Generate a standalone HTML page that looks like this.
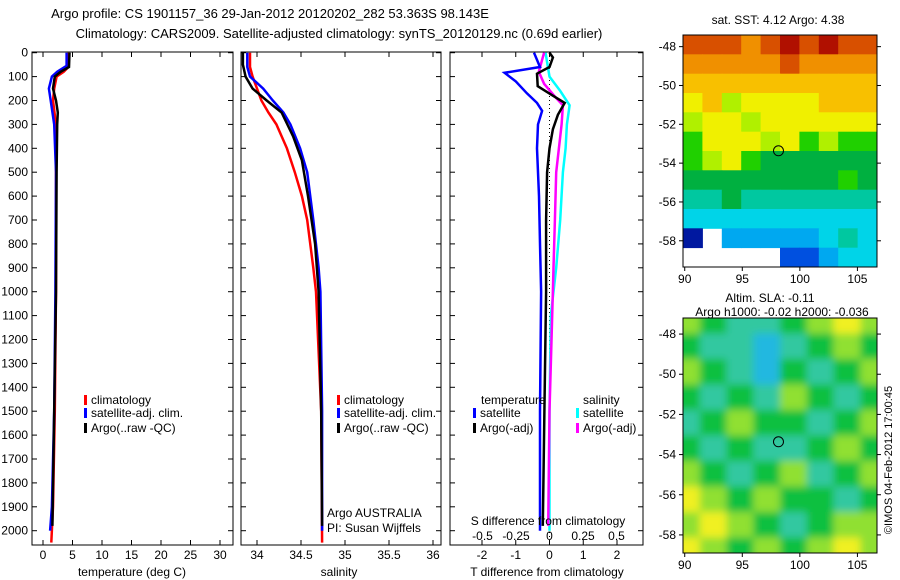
<!DOCTYPE html>
<html><head><meta charset="utf-8">
<style>
html,body{margin:0;padding:0;background:#fff;}
svg{display:block;font-family:"Liberation Sans",sans-serif;font-size:12px;}
</style></head>
<body>
<svg id="chart" width="900" height="580" viewBox="0 0 900 580" xmlns="http://www.w3.org/2000/svg">
<text x="270" y="18" text-anchor="middle" style="font-size:13px">Argo profile: CS 1901157_36 29-Jan-2012 20120202_282 53.363S 98.143E</text>
<text x="339" y="38" text-anchor="middle" style="font-size:13px">Climatology: CARS2009. Satellite-adjusted climatology: synTS_20120129.nc (0.69d earlier)</text>
<g id="g"></g>
</svg>
<script>
// ---------- data ----------
const depthTicks=[0,100,200,300,400,500,600,700,800,900,1000,1100,1200,1300,1400,1500,1600,1700,1800,1900,2000];
const tempTicks=[0,5,10,15,20,25,30];
const salTicks=[34,34.5,35,35.5,36];
const tdiffTicks=[-2,-1,0,1,2];
const sdiffTicks=[-0.5,-0.25,0,0.25,0.5];
const sdiffTickLabels=["-0.5","-0.25","0","0.25","0.5"];
const lonTicks=[90,95,100,105];
const latTicks=[-48,-50,-52,-54,-56,-58];

const tClimDepth=[0,60,80,100,150,200,300,500,1000,1500,1900,2050];
const tClim=[4.3,4.3,3.5,2.3,1.9,1.7,2.2,2.2,2.2,2.0,1.7,1.4];
const tSatDepth=[0,55,80,100,150,200,300,500,1000,1500,1900,2000];
const tSat=[4.0,4.0,2.4,1.5,1.0,1.3,1.9,2.2,2.1,1.9,1.5,1.2];
const tArgoDepth=[0,60,80,100,150,200,250,300,500,1000,1500,1980];
const tArgo=[4.5,4.4,3.0,2.0,1.7,2.2,2.5,2.4,2.3,2.2,1.9,1.6];

const sClimDepth=[0,60,100,150,200,250,300,400,500,600,700,900,1000,1500,2050];
const sClim=[33.92,33.92,33.95,34.0,34.05,34.13,34.22,34.34,34.43,34.51,34.57,34.64,34.67,34.73,34.74];
const sSatDepth=[0,60,100,150,200,250,300,400,500,700,900,1000,1500,2000];
const sSat=[33.89,33.89,33.92,34.07,34.18,34.3,34.38,34.49,34.57,34.64,34.7,34.72,34.74,34.74];
const sArgoDepth=[0,50,100,150,200,250,350,450,600,800,1000,1500,1980];
const sArgo=[33.84,33.84,33.87,33.95,34.11,34.28,34.41,34.51,34.58,34.66,34.70,34.73,34.74];

const dTSatDepth=[0,60,84,120,170,210,243,300,400,600,800,1000,1500,2000];
const dTSat=[-0.46,-0.28,-1.33,-1.0,-0.67,-0.37,-0.22,-0.34,-0.37,-0.31,-0.28,-0.25,-0.28,-0.28];
const dTArgoDepth=[0,20,60,88,140,180,210,260,320,400,500,700,1000,1500,1980];
const dTArgo=[0.0,0.1,0.0,-0.37,-0.35,0.1,0.45,0.25,0.1,0.0,-0.07,-0.1,-0.1,-0.15,-0.2];
const dSSatDepth=[0,100,160,220,300,400,500,700,900,1100,1500,2000];
const dSSat=[-0.03,0.0,0.08,0.15,0.13,0.12,0.1,0.08,0.05,0.01,0.0,0.0];
const dSArgoDepth=[0,80,130,190,220,300,400,500,700,900,1100,1500,1980];
const dSArgo=[-0.04,-0.08,-0.04,0.05,0.1,0.09,0.07,0.05,0.04,0.03,0.02,0.0,-0.01];

const sstPalette=["#0018a0","#0050e0","#00a8f0","#00d4e8","#00c8a0","#00b040","#20d000","#b0f000","#f0f000","#f8c000","#f09000","#d85000","#b01000"];
const sstGrid=[
[11,11,11,10,11,12,11,12,11,11],
[10,10,10,10,10,11,10,10,10,10],
[9,9,9,9,9,9,9,9,9,9],
[8,9,7,8,8,8,8,9,9,9],
[7,8,8,7,8,8,8,8,8,8],
[6,8,8,8,7,8,6,7,6,6],
[6,7,8,6,5,5,5,5,5,5],
[5,5,5,5,5,5,5,5,6,5],
[4,4,5,4,4,4,4,4,4,4],
[3,3,3,3,3,3,3,3,3,3],
[0,-1,2,2,2,2,2,3,4,3],
[-1,-1,-1,-1,-1,1,1,2,3,3]];
const slaPalette=["#20b8e0","#30c8a0","#10c040","#90e030","#f0f020"];
const slaGrid=[
[1,0,-1,-1,0,1,2,1],
[0,-1,-1,-2,-1,0,1,0],
[1,0,-1,-2,0,-1,0,1],
[0,-1,0,-1,1,0,-1,0],
[-1,0,1,0,0,-1,0,1],
[0,-1,0,-1,-1,0,1,0],
[1,0,-1,0,1,-1,0,1],
[2,1,0,1,0,0,-1,0],
[1,2,1,0,-1,0,1,1],
[2,1,0,1,0,1,2,1]];
const floatLon=98.143, floatLat=-53.363;

// ---------- helpers ----------
const NS="http://www.w3.org/2000/svg";
const G=document.getElementById('g');
function el(tag,attrs,parent){const e=document.createElementNS(NS,tag);for(const k in attrs)e.setAttribute(k,attrs[k]);(parent||G).appendChild(e);return e;}
function txt(x,y,s,anchor,parent){const t=el('text',{x:x,y:y,'text-anchor':anchor||'start'},parent);t.textContent=s;return t;}

const TOP=52, BOT=545;
const yD=d=>52.7+d*0.239;
function panel(name,x0,x1){
  const r=el('rect',{x:x0,y:TOP,width:x1-x0,height:BOT-TOP,fill:'none',stroke:'#000','stroke-width':1});
  
  
  depthTicks.forEach(d=>{const y=yD(d);
    el('line',{x1:x0,x2:x0+5,y1:y,y2:y,stroke:'#000'});
    el('line',{x1:x1,x2:x1-5,y1:y,y2:y,stroke:'#000'});});
}
function xTicks(xs,fx,labels,y,name){
  xs.forEach((v,i)=>{const x=fx(v);
    el('line',{x1:x,x2:x,y1:BOT,y2:BOT-5,stroke:'#000'});
    el('line',{x1:x,x2:x,y1:TOP,y2:TOP+5,stroke:'#000'});
    const t=txt(x,y,labels?labels[i]:String(v),'middle');
    
    });
}
function line(ds,vs,fx,color,name,w){
  const pts=ds.map((d,i)=>fx(vs[i]).toFixed(1)+','+yD(d).toFixed(1)).join(' ');
  const p=el('polyline',{points:pts,fill:'none',stroke:color,'stroke-width':w||2.5,'stroke-linejoin':'miter'});
  
  
}
function legendEntry(x,y,color,label,name){
  el('rect',{x:x,y:y-9,width:3,height:10,fill:color});
  const t=txt(x+7,y,label);
  
  
}

// ---------- panel 1: temperature ----------
const fT=v=>43+v*5.9;
panel('temperature-panel',32,233);
depthTicks.forEach(d=>{const t=txt(28,yD(d)+4,String(d),'end');
  
  });
xTicks(tempTicks,fT,null,559,'temperature');
line(tClimDepth,tClim,fT,'#ff0000','temp-climatology-line');
line(tSatDepth,tSat,fT,'#0000ff','temp-satellite-line');
line(tArgoDepth,tArgo,fT,'#000000','temp-argo-line');
txt(132,576,'temperature (deg C)','middle');
legendEntry(84,404,'#ff0000','climatology','legend-climatology');
legendEntry(84,417,'#0000ff','satellite-adj. clim.','legend-satellite');
legendEntry(84,432,'#000000','Argo(..raw -QC)','legend-argo');

// ---------- panel 2: salinity ----------
const fS=v=>257+(v-34)*88;
panel('salinity-panel',241,441);
xTicks(salTicks,fS,null,559,'salinity');
line(sClimDepth,sClim,fS,'#ff0000','sal-climatology-line');
line(sSatDepth,sSat,fS,'#0000ff','sal-satellite-line');
line(sArgoDepth,sArgo,fS,'#000000','sal-argo-line');
txt(339,576,'salinity','middle');
legendEntry(337,404,'#ff0000','climatology','legend-climatology-2');
legendEntry(337,417,'#0000ff','satellite-adj. clim.','legend-satellite-2');
legendEntry(337,432,'#000000','Argo(..raw -QC)','legend-argo-2');
txt(327,517,'Argo AUSTRALIA');
txt(327,532,'PI: Susan Wijffels');

// ---------- panel 3: differences ----------
const fDT=v=>549.5+v*33.75;
const fDS=v=>549.5+v*134;
panel('difference-panel',450,643);
xTicks(tdiffTicks,fDT,null,559,'t-difference');
el('line',{x1:fDT(0),x2:fDT(0),y1:TOP,y2:BOT,stroke:'#000','stroke-dasharray':'1,3'});
line(dSSatDepth,dSSat,fDS,'#00ffff','sdiff-satellite-line');
line(dSArgoDepth,dSArgo,fDS,'#ff00ff','sdiff-argo-line');
line(dTSatDepth,dTSat,fDT,'#0000ff','tdiff-satellite-line');
line(dTArgoDepth,dTArgo,fDT,'#000000','tdiff-argo-line');
txt(547,576,'T difference from climatology','middle');
sdiffTicks.forEach((v,i)=>{const t=txt(fDS(v),540,sdiffTickLabels[i],'middle');
  
  });
txt(548,525,'S difference from climatology','middle');
txt(481,404,'temperature');
txt(583,404,'salinity');
legendEntry(473,417,'#0000ff','satellite','legend-tdiff-satellite');
legendEntry(473,432,'#000000','Argo(-adj)','legend-tdiff-argo');
legendEntry(576,417,'#00ffff','satellite','legend-sdiff-satellite');
legendEntry(576,432,'#ff00ff','Argo(-adj)','legend-sdiff-argo');

// ---------- maps ----------
const LON0=89.85, LON1=106.7, LAT0=-47.4, LAT1=-59.35;
function mapAxes(name,x0,y0,x1,y1,fx,fy){
  const r=el('rect',{x:x0,y:y0,width:x1-x0,height:y1-y0,fill:'none',stroke:'#000'});
  
  
  lonTicks.forEach(v=>{const x=fx(v);
    el('line',{x1:x,x2:x,y1:y1,y2:y1+4,stroke:'#000'});
    const t=txt(x,y1+16,String(v),'middle');
    
    });
  latTicks.forEach(v=>{const y=fy(v);
    el('line',{x1:x0-4,x2:x0,y1:y,y2:y,stroke:'#000'});
    el('line',{x1:x1,x2:x1+4,y1:y,y2:y,stroke:'#000'});
    const t=txt(x0-7,y+4,String(v),'end');
    
    });
  const c=el('circle',{cx:fx(floatLon),cy:fy(floatLat),r:5,fill:'none',stroke:'#000','stroke-width':1});
  
  
}
// SST map
{
  const x0=683,x1=877,y0=35,y1=267;
  const fx=v=>x0+(v-LON0)*(x1-x0)/(LON1-LON0);
  const fy=v=>y0+(LAT0-v)*(y1-y0)/(LAT0-LAT1);
  const nr=sstGrid.length,nc=sstGrid[0].length;
  const cw=(x1-x0)/nc,ch=(y1-y0)/nr;
  sstGrid.forEach((row,i)=>row.forEach((v,j)=>{
    if(v<0)return;
    const c=el('rect',{x:(x0+j*cw).toFixed(1),y:(y0+i*ch).toFixed(1),width:(cw+0.5).toFixed(1),height:(ch+0.5).toFixed(1),fill:sstPalette[v]});
    
    
  }));
  mapAxes('sst-map',x0,y0,x1,y1,fx,fy);
  txt(778,24,'sat. SST: 4.12 Argo: 4.38','middle');
}
// SLA map
{
  const x0=683,x1=877,y0=318,y1=553;
  const lat0=-47.2,lat1=-58.9;
  const fx=v=>x0+(v-LON0)*(x1-x0)/(LON1-LON0);
  const fy=v=>y0+(lat0-v)*(y1-y0)/(lat0-lat1);
  const defs=el('defs',{});
  const cp=el('clipPath',{id:'slaclip'},defs);
  el('rect',{x:x0,y:y0,width:x1-x0,height:y1-y0},cp);
  const f=el('filter',{id:'blur',x:'-10%',y:'-10%',width:'120%',height:'120%'},defs);
  el('feGaussianBlur',{stdDeviation:4},f);
  const gc=el('g',{'clip-path':'url(#slaclip)'});
  el('rect',{x:x0,y:y0,width:x1-x0,height:y1-y0,fill:slaPalette[2]},gc);
  const gb=el('g',{filter:'url(#blur)'},gc);
  const nr=slaGrid.length,nc=slaGrid[0].length;
  const cw=(x1-x0+20)/nc,ch=(y1-y0+20)/nr;
  slaGrid.forEach((row,i)=>row.forEach((v,j)=>{
    const c=el('rect',{x:(x0-10+j*cw).toFixed(1),y:(y0-10+i*ch).toFixed(1),width:(cw+0.5).toFixed(1),height:(ch+0.5).toFixed(1),fill:slaPalette[v+2]},gb);
    
    
  }));
  mapAxes('sla-map',x0,y0,x1,y1,fx,fy);
  txt(770,302,'Altim. SLA: -0.11','middle');
  txt(782,316,'Argo h1000: -0.02 h2000: -0.036','middle');
}
const cr=txt(0,0,'©IMOS 04-Feb-2012 17:00:45','middle');
cr.setAttribute('transform','translate(892,460) rotate(-90)');
cr.setAttribute('style','font-size:11px');


</script>
</body></html>
